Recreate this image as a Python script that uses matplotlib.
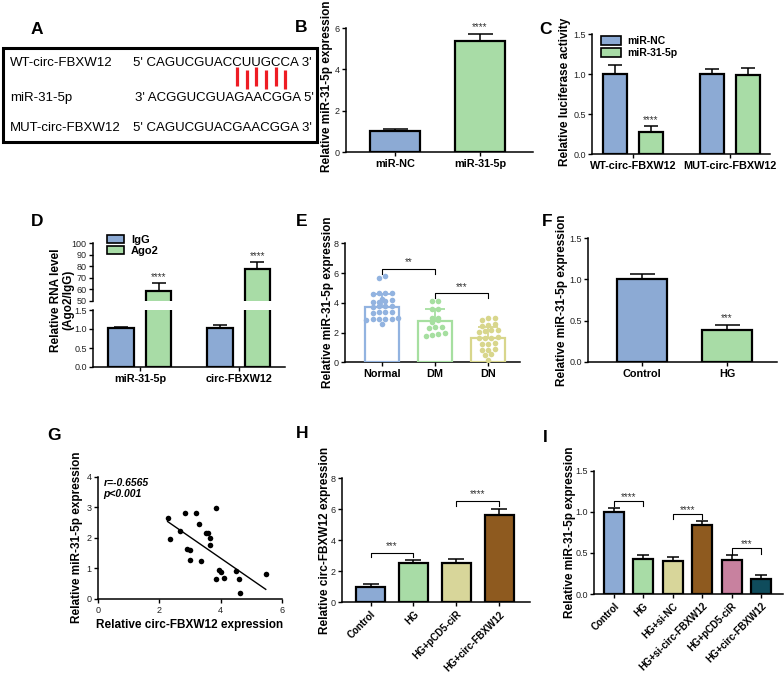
import numpy as np
import matplotlib
matplotlib.use("Agg")
import matplotlib.pyplot as plt
from matplotlib.patches import Rectangle, Patch
from matplotlib.lines import Line2D
from matplotlib.font_manager import FontProperties

plt.rcParams["font.family"] = ["Liberation Sans", "DejaVu Sans"]

# ---- data ----
# A: sequences
seq_names = ["WT-circ-FBXW12", "miR-31-5p", "MUT-circ-FBXW12"]
seq_ends = [("5'", "3'"), ("3'", "5'"), ("5'", "3'")]
seqs = ["CAGUCGUACCUUGCCA", "ACGGUCGUAGAACGGA", "CAGUCGUACGAACGGA"]
pair_idx = [9, 10, 11, 12, 13, 14]

# B
b_groups = ["miR-NC", "miR-31-5p"]
b_mean = [1.02, 5.35]
b_err = [0.10, 0.38]

# C
c_sites = ["WT-circ-FBXW12", "MUT-circ-FBXW12"]
c_nc = [1.0, 1.0]
c_nc_err = [0.11, 0.06]
c_mir = [0.28, 0.99]
c_mir_err = [0.07, 0.08]

# D
d_targets = ["miR-31-5p", "circ-FBXW12"]
d_igg = [1.02, 1.02]
d_igg_err = [0.03, 0.08]
d_ago2 = [58.8, 77.5]
d_ago2_err = [7.0, 6.2]

# E
e_groups = ["Normal", "DM", "DN"]
e_normal = [5.7, 5.8, 4.64, 4.64, 4.64, 4.62, 4.14, 4.25, 4.21, 4.07, 4.03,
            3.69, 3.76, 3.80, 3.76, 3.30, 3.35, 3.39, 3.35,
            2.90, 2.92, 2.85, 2.88, 2.94, 2.96, 2.56]
e_dm = [4.1, 4.15, 3.55, 3.6, 3.0, 2.95, 2.85, 2.7, 2.35, 2.3, 2.4, 1.9, 1.85, 1.95, 1.8]
e_dn = [3.0, 2.95, 2.85, 2.6, 2.5, 2.45, 2.2, 2.15, 2.1, 2.05, 1.7, 1.65, 1.6, 1.6,
        1.3, 1.25, 1.2, 0.9, 0.85, 0.8, 0.55, 0.5, 0.15]
e_mean = [3.75, 2.80, 1.63]
e_sd = [0.82, 0.77, 0.77]

# F
f_groups = ["Control", "HG"]
f_mean = [1.0, 0.39]
f_err = [0.07, 0.06]

# G
g_circ = [2.27, 2.36, 2.68, 2.85, 2.90, 3.01, 3.01, 3.21, 3.30, 3.36, 3.53, 3.59,
          3.65, 3.64, 3.84, 3.84, 3.95, 4.02, 4.11, 4.49, 4.60, 4.62, 5.47]
g_mir = [2.64, 1.96, 2.22, 2.82, 1.63, 1.60, 1.28, 2.82, 2.44, 1.24, 2.15, 2.15,
         1.98, 1.77, 2.96, 0.65, 0.95, 0.87, 0.70, 0.92, 0.64, 0.21, 0.81]

# H
h_groups = ["Control", "HG", "HG+pCD5-ciR", "HG+circ-FBXW12"]
h_mean = [1.01, 2.52, 2.55, 5.63]
h_err = [0.15, 0.21, 0.26, 0.39]

# I
i_groups = ["Control", "HG", "HG+si-NC", "HG+si-circ-FBXW12", "HG+pCD5-ciR", "HG+circ-FBXW12"]
i_mean = [1.0, 0.42, 0.40, 0.84, 0.41, 0.18]
i_err = [0.05, 0.06, 0.05, 0.05, 0.06, 0.05]

BLUE = "#8CAAD4"
GREEN = "#A8DCA6"
KHAKI = "#D8D69A"
BROWN = "#8E5A1F"
PINK = "#C8819F"
TEAL = "#0F4C5C"

W, H = 784, 678
fig = plt.figure(figsize=(W / 100, H / 100), dpi=100)


def fx(x):
    return x / W


def fy(y):
    return 1 - y / H


def box(x0, y0, x1, y1):
    return fig.add_axes([fx(x0), fy(y1), (x1 - x0) / W, (y1 - y0) / H])


def style(ax, xlim, ylim, yticks, fmt="{:g}"):
    ax.spines[["top", "right"]].set_visible(False)
    ax.spines[["left", "bottom"]].set_linewidth(1.1)
    ax.set_xlim(xlim)
    ax.set_ylim(ylim)
    ax.set_yticks(yticks, [fmt.format(t) for t in yticks])
    ax.tick_params(axis="y", length=3, width=1, labelsize=6.5, pad=1.5, labelcolor="#222")
    ax.tick_params(axis="x", length=3, width=1, labelsize=7.8, pad=2)


def bars(ax, x, mean, err, colors, width, cap):
    ax.errorbar(x, mean, yerr=[np.zeros(len(err)), err], fmt="none", ecolor="black",
                elinewidth=1.1, capsize=cap, capthick=1.1, zorder=2)
    ax.bar(x, mean, width, color=colors, edgecolor="black", linewidth=1.6, zorder=3)


def stars(ax, x, y, s):
    ax.text(x, y, s, ha="center", va="center", fontsize=7, color="#333", clip_on=False)


def bracket(ax, x1, x2, y, d, s, dy):
    ax.plot([x1, x1, x2, x2], [y - d, y, y, y - d], color="black", lw=0.8, clip_on=False)
    stars(ax, (x1 + x2) / 2, y + dy, s)


def ylab(text, x, y, size=8.5):
    fig.text(fx(x), fy(y), text, rotation=90, ha="center", va="center",
             fontsize=size, fontweight="bold", multialignment="center", linespacing=1.1)


def plabel(s, x, y):
    fig.text(fx(x), fy(y), s, fontsize=12.5, fontweight="bold", ha="center", va="center")


def swarm(vals, step, tol):
    vals = np.asarray(vals, float)
    order = np.argsort(vals)
    offs = np.zeros(len(vals))
    rows, row = [], [order[0]]
    for i in order[1:]:
        if vals[i] - vals[row[0]] <= tol:
            row.append(i)
        else:
            rows.append(row)
            row = [i]
    rows.append(row)
    for r in rows:
        for k, i in enumerate(r):
            offs[i] = (k - (len(r) - 1) / 2) * step
    return offs


# ---- A ----
plabel("A", 37, 29)
fig.add_artist(Rectangle((fx(3), fy(142)), 314 / W, 94 / H, transform=fig.transFigure,
                         fill=False, lw=2.2, edgecolor="black"))
seq_fs = 9.5
row_y = [63, 98, 128]
seq_x = [133, 135, 133]
for name, ends, s, y, x0 in zip(seq_names, seq_ends, seqs, row_y, seq_x):
    fig.text(fx(10), fy(y), name, fontsize=seq_fs, va="center")
    fig.text(fx(x0), fy(y), f"{ends[0]} {s} {ends[1]}", fontsize=seq_fs, va="center")

renderer = fig.canvas.get_renderer()
fp = FontProperties(family=["Liberation Sans"], size=seq_fs)


def text_w(t):
    return renderer.get_text_width_height_descent(t, fp, ismath=False)[0]


for k, i in enumerate(pair_idx):
    pre = f"{seq_ends[0][0]} {seqs[0][:i]}"
    xc = seq_x[0] + text_w(pre) + text_w(seqs[0][i]) / 2
    top = 67 if k % 2 == 0 else 70
    fig.add_artist(Line2D([fx(xc), fx(xc)], [fy(top), fy(top + 19)], transform=fig.transFigure,
                          color="#EE1C24", lw=2.3, solid_capstyle="butt"))

# ---- B ----
plabel("B", 301, 28)
ax = box(346, 28, 533, 152)
x = np.arange(len(b_groups))
style(ax, (-0.576, 1.624), (0, 6), [0, 2, 4, 6])
bars(ax, x, b_mean, b_err, [BLUE, GREEN], 0.58, 9)
ax.set_xticks(x, b_groups, fontweight="bold")
stars(ax, 1, b_mean[1] + b_err[1] + 0.3, "****")
ylab("Relative miR-31-5p expression", 327, 86)

# ---- C ----
plabel("C", 545, 29)
ax = box(592, 34, 770, 154)
x = np.arange(len(c_sites))
style(ax, (-0.42, 1.41), (0, 1.5), [0, 0.5, 1.0, 1.5], "{:.1f}")
bars(ax, x - 0.186, c_nc, c_nc_err, BLUE, 0.25, 5)
bars(ax, x + 0.186, c_mir, c_mir_err, GREEN, 0.25, 5)
ax.set_xticks(x, c_sites, fontweight="bold")
stars(ax, 0.186, c_mir[0] + c_mir_err[0] + 0.07, "****")
ax.legend([Patch(facecolor=BLUE, edgecolor="black", lw=1.2),
           Patch(facecolor=GREEN, edgecolor="black", lw=1.2)],
          ["miR-NC", "miR-31-5p"], loc="upper left", bbox_to_anchor=(fx(596), fy(31)),
          bbox_transform=fig.transFigure, frameon=False, prop={"weight": "bold", "size": 7.5},
          handlelength=1.9, handleheight=0.9, labelspacing=0.15, borderpad=0, handletextpad=0.6)
ylab("Relative luciferase activity", 565, 92)

# ---- D ----
plabel("D", 37, 221)
ax_up = box(93, 243.3, 285, 300.7)
ax_lo = box(93, 310, 285, 367)
x = np.arange(len(d_targets))
style(ax_lo, (-0.475, 1.47), (0, 1.5), [0, 0.5, 1.0, 1.5], "{:.1f}")
style(ax_up, (-0.475, 1.47), (50, 100), [50, 60, 70, 80, 90, 100])
ax_up.spines["bottom"].set_visible(False)
ax_up.set_xticks([])
bars(ax_lo, x - 0.19, d_igg, d_igg_err, BLUE, 0.26, 5)
ax_lo.bar(x + 0.19, d_ago2, 0.26, color=GREEN, edgecolor="black", linewidth=1.6, zorder=3)
bars(ax_up, x + 0.19, d_ago2, d_ago2_err, GREEN, 0.26, 5)
for xi, m, e in zip(x, d_ago2, d_ago2_err):
    stars(ax_up, xi + 0.19, m + e + 5, "****")
ax_lo.set_xticks(x, d_targets, fontweight="bold")
ax_up.legend([Patch(facecolor=BLUE, edgecolor="black", lw=1.2),
              Patch(facecolor=GREEN, edgecolor="black", lw=1.2)],
             ["IgG", "Ago2"], loc="upper left", bbox_to_anchor=(fx(101), fy(229)),
             bbox_transform=fig.transFigure, frameon=False, prop={"weight": "bold", "size": 8},
             handlelength=1.6, handleheight=0.7, labelspacing=0.15, borderpad=0, handletextpad=0.6)
ylab("Relative RNA level\n(Ago2/IgG)", 62, 300)

# ---- E ----
plabel("E", 302, 221)
ax = box(345, 243.3, 520, 362.3)
x = np.arange(len(e_groups))
style(ax, (-0.70, 2.6), (0, 8), [0, 2, 4, 6, 8])
e_colors = ["#92B3E0", "#A6DFA0", "#D8D68C"]
for xi, vals, m, sd, c in zip(x, [e_normal, e_dm, e_dn], e_mean, e_sd, e_colors):
    ax.errorbar(xi, m, yerr=[[0], [sd]], fmt="none", ecolor=c, elinewidth=1.3,
                capsize=7, capthick=1.3, zorder=2)
    ax.bar(xi, m, 0.64, color="white", edgecolor=c, linewidth=1.6, zorder=3)
    ax.scatter(xi + swarm(vals, 0.12, 0.2), vals, s=16, color=c, zorder=4, linewidths=0)
ax.set_xticks(x, e_groups, fontweight="bold")
bracket(ax, 0, 1, 6.3, 0.35, "**", 0.45)
bracket(ax, 1, 2, 4.63, 0.33, "***", 0.45)
ylab("Relative miR-31-5p expression", 328, 302)

# ---- F ----
plabel("F", 547, 221)
ax = box(588, 238.3, 777, 361.7)
x = np.arange(len(f_groups))
style(ax, (-0.635, 1.59), (0, 1.5), [0, 0.5, 1.0, 1.5], "{:.1f}")
bars(ax, x, f_mean, f_err, [BLUE, GREEN], 0.59, 9)
ax.set_xticks(x, f_groups, fontweight="bold")
stars(ax, 1, f_mean[1] + f_err[1] + 0.08, "***")
ylab("Relative miR-31-5p expression", 562, 300)

# ---- G ----
plabel("G", 54, 435)
ax = box(98, 476.7, 282, 599)
style(ax, (0, 6), (0, 4), [0, 1, 2, 3, 4])
ax.set_xticks([0, 2, 4, 6])
ax.tick_params(axis="x", labelsize=6.5, labelcolor="#222")
ax.scatter(g_circ, g_mir, s=16, color="black", zorder=3, linewidths=0)
k, b0 = np.polyfit(g_circ, g_mir, 1)
xs = np.array([min(g_circ), max(g_circ)])
ax.plot(xs, k * xs + b0, color="black", lw=1.0)
ax.text(0.03, 0.99, "r=-0.6565\np<0.001", transform=ax.transAxes, va="top", ha="left",
        fontsize=7.5, fontweight="bold", fontstyle="italic", linespacing=1.15)
fig.text(fx(190), fy(625), "Relative circ-FBXW12 expression", ha="center", va="center",
         fontsize=8.5, fontweight="bold")
ylab("Relative miR-31-5p expression", 77, 537)

# ---- H ----
plabel("H", 302, 434)
ax = box(341.7, 478.3, 530, 602.3)
x = np.arange(len(h_groups))
style(ax, (-0.67, 3.71), (0, 8), [0, 2, 4, 6, 8])
bars(ax, x, h_mean, h_err, [BLUE, GREEN, KHAKI, BROWN], 0.67, 6)
ax.set_xticks(x, h_groups, fontweight="bold", rotation=45, ha="right",
              rotation_mode="anchor", fontsize=7)
bracket(ax, 0, 1, 3.2, 0.3, "***", 0.45)
bracket(ax, 2, 3, 6.55, 0.35, "****", 0.45)
ylab("Relative circ-FBXW12 expression", 325, 540)

# ---- I ----
plabel("I", 545, 438)
ax = box(594, 470.7, 783, 594)
x = np.arange(len(i_groups))
style(ax, (-0.68, 5.75), (0, 1.5), [0, 0.5, 1.0, 1.5], "{:.1f}")
bars(ax, x, i_mean, i_err, [BLUE, GREEN, KHAKI, BROWN, PINK, TEAL], 0.68, 4)
ax.set_xticks(x, i_groups, fontweight="bold", rotation=45, ha="right",
              rotation_mode="anchor", fontsize=7)
bracket(ax, 0, 1, 1.135, 0.07, "****", 0.05)
bracket(ax, 2, 3, 0.97, 0.06, "****", 0.05)
bracket(ax, 4, 5, 0.555, 0.065, "***", 0.05)
ylab("Relative miR-31-5p expression", 570, 532)

fig.savefig("out.png", dpi=100, facecolor="white")
